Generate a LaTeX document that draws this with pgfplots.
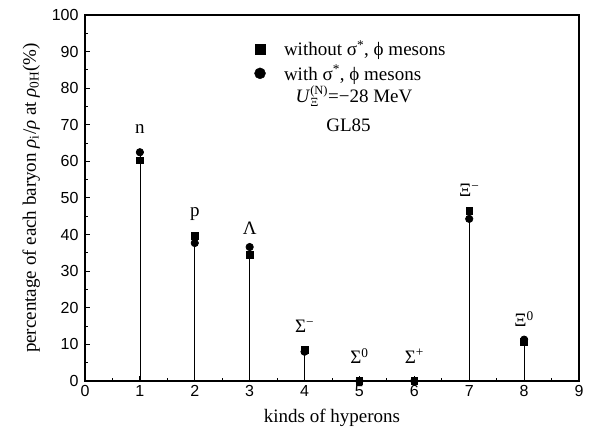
\documentclass[border=0pt]{standalone}
\usepackage{pgfplots}
\pgfplotsset{compat=1.18}
\usepackage{fontspec}
\setmainfont{Liberation Serif}
\newfontfamily\arial{Liberation Sans}
\newcommand{\bigf}{\fontsize{19}{22}\selectfont}
\newcommand{\subf}{\fontsize{12.5}{13}\selectfont}
\begin{document}
\begin{tikzpicture}
\begin{axis}[
  scale only axis,
  width=494pt, height=366pt,
  xmin=0, xmax=9, ymin=0, ymax=100,
  xtick={0,1,...,9}, ytick={0,10,...,100},
  minor x tick num=1, minor y tick num=1,
  xtick pos=lower, ytick pos=left,
  tick align=inside,
  major tick length=5pt, minor tick length=3pt,
  axis line style={line width=1.2pt},
  every tick/.style={black, line width=1pt},
  /pgf/number format/assume math mode=true,
  ticklabel style={font=\arial\fontsize{16}{16}\selectfont},
  xticklabel style={yshift=-1pt},
  yticklabel style={xshift=-3pt},
  every axis x label/.style={at={(axis description cs:0.5,-0.1)}, anchor=center},
  every axis y label/.style={at={(axis description cs:-0.109,0.5)}, rotate=90, anchor=center},
  label style={font=\bigf},
  xlabel={kinds of hyperons},
  ylabel={percentage of each baryon \textit{ρ}\textsubscript{i}/\textit{ρ} at \textit{ρ}\textsubscript{0H}(\%)},
  legend style={at={(axis cs:2.93,93.6)}, anchor=north west, draw=none, fill=none,
    font=\bigf, row sep=4pt, inner sep=0pt},
  legend cell align=left,
  legend image code/.code={\path[draw=none,fill=none] (0pt,0pt) -- (36pt,0pt); \draw[#1] plot coordinates {(14pt,0pt)};},
]
% stems + circles (with sigma*, phi)
\addplot[ycomb, black, line width=0.7pt, mark=*, mark size=3.7pt, forget plot]
  coordinates {(1,62.5) (2,37.7) (3,36.6) (4,8.0) (5,0) (6,0) (7,44.3) (8,11.3)};
% stems + squares (without sigma*, phi)
\addplot[ycomb, black, line width=0.7pt, mark=square*, mark size=3.3pt, forget plot]
  coordinates {(1,60.3) (2,39.7) (3,34.5) (4,8.5) (5,0) (6,0) (7,46.5) (8,10.7)};
\addlegendimage{only marks, mark=square*, mark size=5pt, black}
\addlegendentry{without σ\textsuperscript{*}, ϕ mesons}
\addlegendimage{only marks, mark=*, mark size=5.5pt, black}
\addlegendentry{with σ\textsuperscript{*}, ϕ mesons}
% particle labels
\node[font=\bigf] at (axis cs:1,68.8) {n};
\node[font=\bigf] at (axis cs:2,45.5) {p};
\node[font=\bigf] at (axis cs:3,41.8) {Λ};
\node[font=\bigf] at (axis cs:4,15.0) {Σ\textsuperscript{−}};
\node[font=\bigf] at (axis cs:5,6.8) {Σ\textsuperscript{0}};
\node[font=\bigf] at (axis cs:6,6.8) {Σ\textsuperscript{+}};
\node[font=\bigf] at (axis cs:7,52.0) {Ξ\textsuperscript{−}};
\node[font=\bigf] at (axis cs:8,17.0) {Ξ\textsuperscript{0}};
% annotations
\node[font=\bigf] at (axis cs:4.9,77.8) {\textit{U}$_{\mbox{\subf Ξ}}^{\mbox{\subf (N)}}$=−28 MeV};
\node[font=\bigf] at (axis cs:4.8,69.8) {GL85};
\end{axis}
\pgfresetboundingbox
\path[use as bounding box] ([shift={(-85pt,-57pt)}]current axis.south west) rectangle ([shift={(23pt,15pt)}]current axis.north east);
\end{tikzpicture}
\end{document}
